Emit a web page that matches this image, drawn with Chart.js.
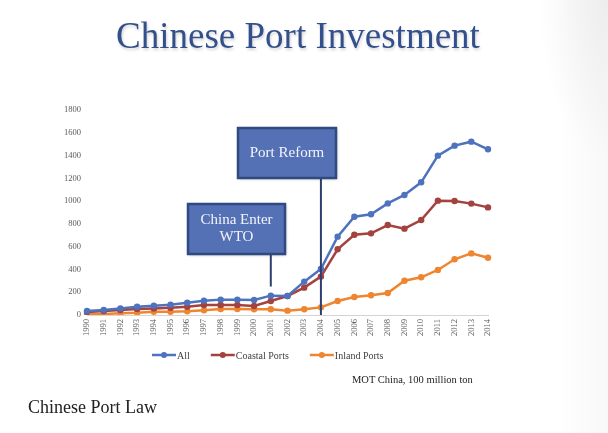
<!DOCTYPE html>
<html>
<head>
<meta charset="utf-8">
<script src="https://cdn.jsdelivr.net/npm/chart.js@4.4.1/dist/chart.umd.min.js"></script>
<style>
  html, body { margin: 0; padding: 0; }
  body {
    width: 608px; height: 433px; position: relative; overflow: hidden;
    background:
      radial-gradient(ellipse 70px 160px at 608px 0px, rgba(232,232,232,0.7), rgba(255,255,255,0)),
      linear-gradient(to right, #ffffff 92%, #f8f8f8 100%);
  }
  #wrap { position: absolute; left: 0; top: 0; width: 608px; height: 433px; }
  .txt { position: absolute; font-family: 'Liberation Serif', serif; white-space: nowrap; }
  #title { left: 0; width: 596px; top: 14px; text-align: center; font-size: 37px; color: #33508C;
           text-shadow: 1px 2px 3px rgba(0,0,0,0.18); }
  #src { left: 352px; top: 374px; font-size: 10.5px; color: #222; }
  #law { left: 28px; top: 397px; font-size: 18px; color: #222; }
</style>
</head>
<body>
<div id="wrap"><canvas id="chart" width="608" height="433"></canvas></div>
<div class="txt" id="title">Chinese Port Investment</div>
<div class="txt" id="src">MOT China, 100 million ton</div>
<div class="txt" id="law">Chinese Port Law</div>
<script>
// ---- data ----
const YEARS = ['1990','1991','1992','1993','1994','1995','1996','1997','1998','1999','2000','2001','2002',
               '2003','2004','2005','2006','2007','2008','2009','2010','2011','2012','2013','2014'];
const ALL     = [35, 44, 58, 73, 82, 90, 108, 126, 135, 135, 132, 170, 167, 293, 404, 688, 863, 884, 980, 1054, 1165, 1399, 1487, 1522, 1455];
const COASTAL = [26, 35, 44, 53, 58, 64, 73, 88, 88, 88, 79, 123, 167, 240, 337, 577, 705, 717, 790, 758, 834, 1004, 1001, 978, 945];
const INLAND  = [9, 9, 15, 20, 29, 29, 32, 41, 53, 53, 50, 50, 38, 50, 67, 123, 158, 173, 193, 301, 331, 395, 489, 541, 503];
const SERIES_NAMES = ['All', 'Coastal Ports', 'Inland Ports'];
const Y_MAX = 1800, Y_STEP = 200;

// annotations: year the pointer hits, and value where the pointer stops
const NOTES = [
  { lines: ['China Enter', 'WTO'], year: '2001', endValue: 250, box: [188, 204, 97, 50] },
  { lines: ['Port Reform'],        year: '2004', endValue: 0,   box: [238, 128, 98, 50] }
];

const COLORS = ['#4E72BE', '#A3423E', '#EE8530'];
const SERIF = "'Liberation Serif', serif";

const notesPlugin = {
  id: 'notes',
  afterDatasetsDraw(chart) {
    const { ctx, scales } = chart;
    NOTES.forEach(n => {
      const [bx, by, bw, bh] = n.box;
      const x = scales.x.getPixelForValue(YEARS.indexOf(n.year));
      const yEnd = scales.y.getPixelForValue(n.endValue);
      ctx.save();
      // pointer
      ctx.strokeStyle = '#2E3F6E';
      ctx.lineWidth = 2;
      ctx.beginPath();
      ctx.moveTo(x, by + bh);
      ctx.lineTo(x, yEnd);
      ctx.stroke();
      // box
      ctx.shadowColor = 'rgba(0,0,0,0.3)';
      ctx.shadowBlur = 3;
      ctx.shadowOffsetX = 1;
      ctx.shadowOffsetY = 1;
      ctx.fillStyle = '#5571B5';
      ctx.fillRect(bx, by, bw, bh);
      ctx.shadowColor = 'transparent';
      ctx.strokeStyle = '#2F4A80';
      ctx.lineWidth = 2.5;
      ctx.strokeRect(bx, by, bw, bh);
      // text
      ctx.fillStyle = '#F2F4FA';
      ctx.font = '15px ' + SERIF;
      ctx.textAlign = 'center';
      ctx.textBaseline = 'middle';
      const lh = 17;
      const cy = by + bh / 2 - (n.lines.length - 1) * lh / 2;
      n.lines.forEach((t, i) => ctx.fillText(t, bx + bw / 2, cy + i * lh));
      ctx.restore();
    });
  }
};

// line + dot legend like the office one
const legendPlugin = {
  id: 'lineLegend',
  afterDraw(chart) {
    const { ctx } = chart;
    const y = 355;
    let x = 152;
    ctx.save();
    ctx.font = '10px ' + SERIF;
    ctx.textBaseline = 'middle';
    chart.data.datasets.forEach((ds, i) => {
      ctx.strokeStyle = ds.borderColor;
      ctx.lineWidth = 2.5;
      ctx.beginPath();
      ctx.moveTo(x, y);
      ctx.lineTo(x + 24, y);
      ctx.stroke();
      ctx.fillStyle = ds.borderColor;
      ctx.beginPath();
      ctx.arc(x + 12, y, 3, 0, Math.PI * 2);
      ctx.fill();
      ctx.fillStyle = '#404040';
      ctx.fillText(ds.label, x + 25, y + 1);
      x += 25 + ctx.measureText(ds.label).width + 21;
    });
    ctx.restore();
  }
};

const mk = (label, data, color) => ({
  label, data, borderColor: color, backgroundColor: color,
  borderWidth: 2.5, pointRadius: 3.2, pointBorderWidth: 0, tension: 0, fill: false
});

new Chart(document.getElementById('chart'), {
  type: 'line',
  data: {
    labels: YEARS,
    datasets: [
      mk(SERIES_NAMES[0], ALL, COLORS[0]),
      mk(SERIES_NAMES[1], COASTAL, COLORS[1]),
      mk(SERIES_NAMES[2], INLAND, COLORS[2])
    ]
  },
  options: {
    responsive: false, animation: false,
    layout: { padding: { top: 110, left: 0, right: 120, bottom: 88 } },
    plugins: { legend: { display: false }, tooltip: { enabled: false } },
    scales: {
      x: {
        grid: { display: false, drawTicks: false },
        border: { display: true, color: '#D4D4D4', width: 1 },
        ticks: { color: '#595959', font: { family: SERIF, size: 8.5 }, minRotation: 90, maxRotation: 90, padding: 4, autoSkip: false },
        afterFit: s => { s.height = 30; }
      },
      y: {
        min: 0, max: Y_MAX,
        grid: { display: false, drawTicks: false },
        border: { display: false },
        ticks: { stepSize: Y_STEP, color: '#595959', font: { family: SERIF, size: 8.5 }, padding: 6, callback: v => String(v) },
        afterFit: s => { s.width = 87; }
      }
    }
  },
  plugins: [notesPlugin, legendPlugin]
});
</script>
</body>
</html>
